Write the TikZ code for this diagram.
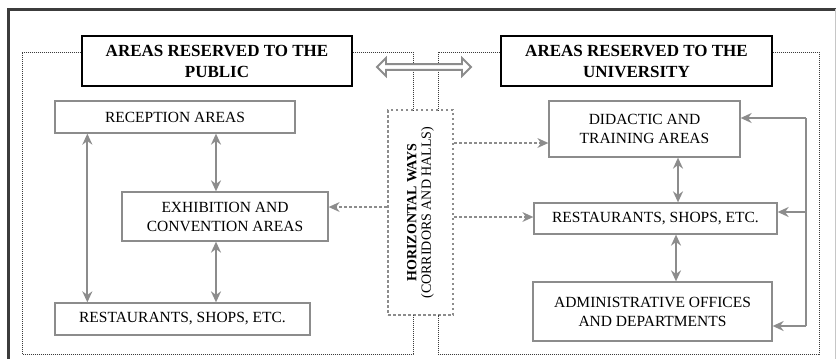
\documentclass[tikz,border=0pt]{standalone}
\usepackage{fontspec}
\setmainfont{Liberation Serif}
\usetikzlibrary{arrows.meta,shapes.arrows}
\definecolor{linegray}{RGB}{140,140,140}
\definecolor{framegray}{RGB}{60,60,60}
\tikzset{
  areabox/.style={draw=linegray,line width=1.3pt,align=center,inner sep=2pt,
    font=\fontsize{15.5}{19}\selectfont},
  titlebox/.style={draw=black,line width=1.4pt,align=center,inner sep=2pt,
    font=\bfseries\fontsize{17}{21}\selectfont},
  waybox/.style={draw=linegray,line width=2.5pt,dash pattern=on 2.5pt off 2.5pt,inner sep=0pt},
  region/.style={draw=framegray,line width=1pt,dash pattern=on 1pt off 1pt},
  link/.style={draw=linegray,line width=1.8pt,{Stealth[length=11pt,width=10pt]}-{Stealth[length=11pt,width=10pt]}},
  feed/.style={draw=linegray,line width=1.8pt,-{Stealth[length=11pt,width=10pt]}},
  wayarr/.style={draw=linegray,line width=2.5pt,dash pattern=on 2.5pt off 2.5pt,
    -{Stealth[length=11pt,width=10pt,line width=0pt]}},
}
\begin{document}
\begin{tikzpicture}[x=1pt,y=-1pt]
  \useasboundingbox (0,0) rectangle (836,359);
  % frame
  \draw[framegray,line width=3pt] (8,359) -- (8,9) -- (836,9);
  \draw[linegray!50,line width=0.6pt] (835,9) -- (835,359);
  % titles
  \node[titlebox,minimum width=270pt,minimum height=50pt] (pubtitle) at (217,61) {AREAS RESERVED TO THE\\PUBLIC};
  \node[titlebox,minimum width=271pt,minimum height=50pt] (unititle) at (636.5,61) {AREAS RESERVED TO THE\\UNIVERSITY};
  % public side
  \node[areabox,minimum width=240pt,minimum height=32pt] (recep) at (175,117) {RECEPTION AREAS};
  \node[areabox,minimum width=206pt,minimum height=49pt] (exhib) at (225,216.5) {EXHIBITION AND\\CONVENTION AREAS};
  \node[areabox,minimum width=255pt,minimum height=32pt] (restpub) at (182.5,319) {RESTAURANTS, SHOPS, ETC.};
  % university side
  \node[areabox,minimum width=191pt,minimum height=56pt] (didac) at (644.5,129) {DIDACTIC AND\\TRAINING AREAS};
  \node[areabox,minimum width=243pt,minimum height=31pt] (restuni) at (655.5,218.5) {RESTAURANTS, SHOPS, ETC.};
  \node[areabox,minimum width=239pt,minimum height=59pt] (admin) at (652.5,311.5) {ADMINISTRATIVE OFFICES\\AND DEPARTMENTS};
  % horizontal ways
  \node[waybox,minimum width=65pt,minimum height=205pt] (ways) at (420.5,212.5) {};
  \node[rotate=90,align=center,font=\fontsize{14}{14.5}\selectfont] (waytext) at (ways.center)
    {\textbf{HORIZONTAL WAYS}\\(CORRIDORS AND HALLS)};
  % dotted regions
  \draw[region] (pubtitle.west |- 0,52) -- (22,52) -- (22,354) -- (413,354) -- (413,315);
  \draw[region] (pubtitle.east |- 0,52) -- (413,52) -- (413,110);
  \draw[region] (unititle.west |- 0,52) -- (438,52) -- (438,110);
  \draw[region] (unititle.east |- 0,52) -- (819,52) -- (819,354) -- (438,354) -- (438,315);
  % exchange arrow
  \node[double arrow,draw=linegray,line width=1.8pt,fill=white,minimum height=94pt,
    minimum width=18pt,double arrow head extend=4pt,inner sep=1pt] (exchange) at (424,67) {};
  % public links
  \draw[link] ([xshift=33pt]recep.south west) -- ([xshift=33pt]recep.south west |- restpub.north);
  \draw[link] ([xshift=-9pt]exhib.north) -- ([xshift=-9pt]exhib.north |- recep.south);
  \draw[link] ([xshift=-9pt]exhib.south) -- ([xshift=-9pt]exhib.south |- restpub.north);
  % university links
  \draw[link] ([xshift=33.5pt]didac.south) -- ([xshift=33.5pt]didac.south |- restuni.north);
  \draw[link] ([xshift=23.5pt]admin.north) -- ([xshift=23.5pt]admin.north |- restuni.south);
  \coordinate (fbtop) at (806,118);
  \coordinate (fbmid) at (806,212);
  \coordinate (fbbot) at (806,326);
  \draw[linegray,line width=1.8pt] (fbtop) -- (fbbot);
  \draw[feed] (fbtop) -- (fbtop -| didac.east);
  \draw[feed] (fbmid) -- (fbmid -| restuni.east);
  \draw[feed] (fbbot) -- (fbbot -| admin.east);
  % ways links
  \draw[wayarr] ([yshift=9.5pt]exhib.east -| ways.west) -- ([yshift=9.5pt]exhib.east);
  \draw[wayarr] ([yshift=-14pt]didac.west -| ways.east) -- ([yshift=-14pt]didac.west);
  \draw[wayarr] ([yshift=1.5pt]restuni.west -| ways.east) -- ([yshift=1.5pt]restuni.west);
\end{tikzpicture}
\end{document}
